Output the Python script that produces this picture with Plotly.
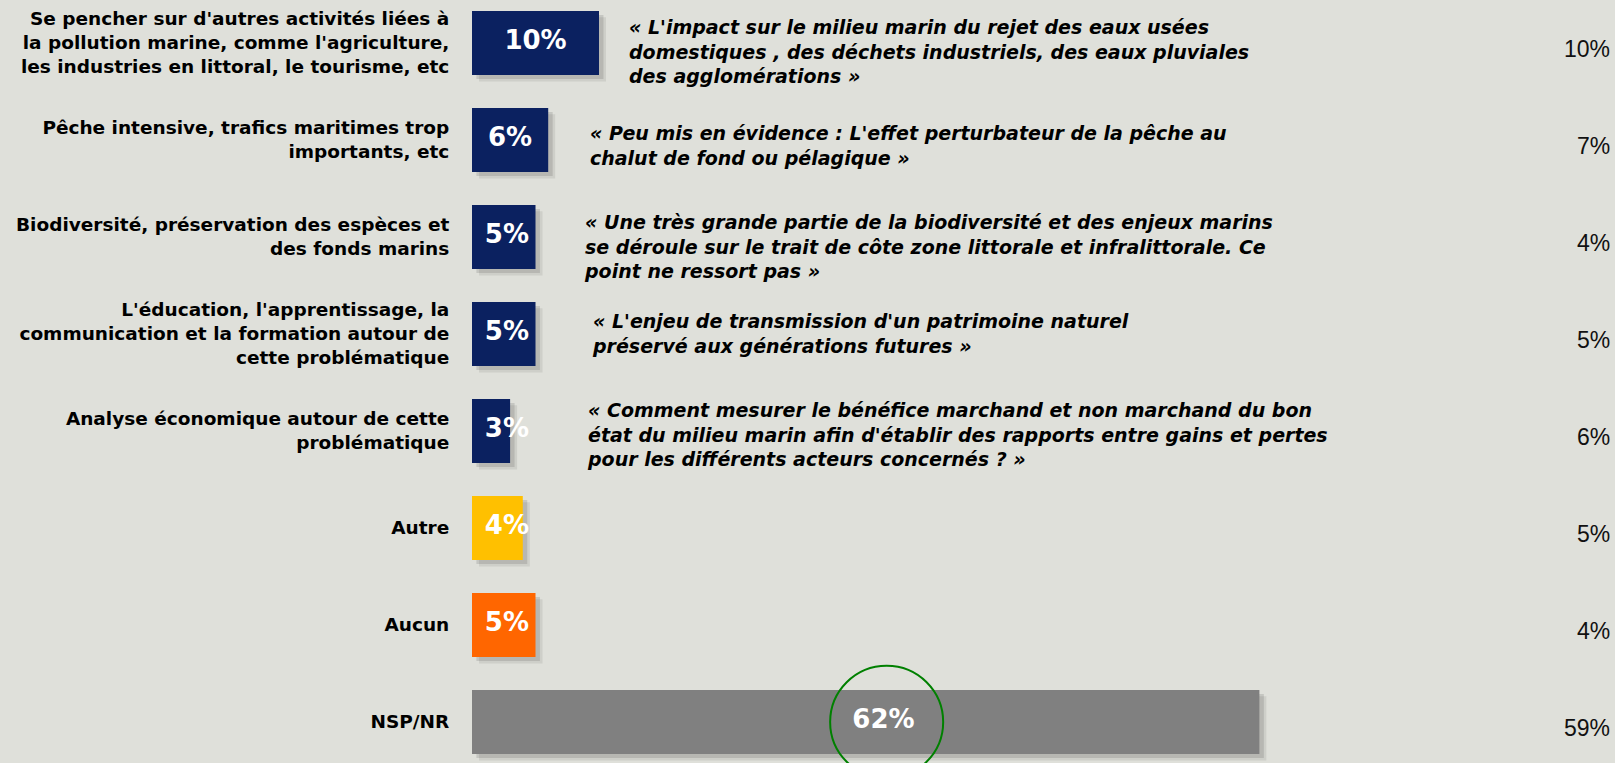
import plotly.graph_objects as go

categories = [
    "Se pencher sur d'autres activités liées à<br>la pollution marine, comme l'agriculture,<br>les industries en littoral, le tourisme, etc",
    "Pêche intensive, trafics maritimes trop<br>importants, etc",
    "Biodiversité, préservation des espèces et<br>des fonds marins",
    "L'éducation, l'apprentissage, la<br>communication et la formation autour de<br>cette problématique",
    "Analyse économique autour de cette<br>problématique",
    "Autre",
    "Aucun",
    "NSP/NR",
]
values = [10, 6, 5, 5, 3, 4, 5, 62]
previous = [10, 7, 4, 5, 6, 5, 4, 59]
bar_colors = ["#0b2160", "#0b2160", "#0b2160", "#0b2160", "#0b2160", "#ffc000", "#ff6600", "#808080"]
quotes = [
    "« L'impact sur le milieu marin du rejet des eaux usées<br>domestiques , des déchets industriels, des eaux pluviales<br>des agglomérations »",
    "« Peu mis en évidence : L'effet perturbateur de la pêche au<br>chalut de fond ou pélagique »",
    "« Une très grande partie de la biodiversité et des enjeux marins<br>se déroule sur le trait de côte zone littorale et infralittorale. Ce<br>point ne ressort pas »",
    "« L'enjeu de transmission d'un patrimoine naturel<br>préservé aux générations futures »",
    "« Comment mesurer le bénéfice marchand et non marchand du bon<br>état du milieu marin afin d'établir des rapports entre gains et pertes<br>pour les différents acteurs concernés ? »",
]
quote_x = [12.2, 9.1, 8.7, 9.3, 8.9]
quote_dy = [0.09, 0.06, 0.10, 0.0, 0.04]

BG = "#dfe0da"
idx = list(range(len(categories)))

fig = go.Figure()

# soft drop shadows
for dx, alpha in [(0.55, 0.10), (0.35, 0.16)]:
    fig.add_trace(go.Bar(
        x=values, y=idx, orientation="h", base=dx, width=0.66, offset=-0.33 + dx * 0.12,
        marker=dict(color=f"rgba(60,60,60,{alpha})", line=dict(width=0)),
        hoverinfo="skip", showlegend=False,
    ))
fig.add_trace(go.Bar(
    x=values, y=idx, orientation="h", width=0.66, offset=-0.33,
    marker=dict(color=bar_colors, line=dict(width=0)),
    hoverinfo="skip", showlegend=False,
))

label_x = [max(v / 2, 2.75) for v in values]
label_x[-1] = values[-1] / 2 + 1.4
fig.add_trace(go.Scatter(
    x=label_x, y=idx, mode="text",
    text=[f"{v}%" for v in values],
    textfont=dict(family="DejaVu Sans", size=26, color="white", weight="bold"),
    textposition="middle center", hoverinfo="skip", showlegend=False,
))

for i, q in enumerate(quotes):
    fig.add_annotation(
        x=quote_x[i], y=i + quote_dy[i], xref="x", yref="y", text=f"<b><i>{q}</i></b>",
        showarrow=False, xanchor="left", yanchor="middle", align="left",
        font=dict(family="DejaVu Sans", size=19, color="#000000"),
    )

for i, p in enumerate(previous):
    fig.add_annotation(
        x=0.997, y=i + 0.065, xref="paper", yref="y", text=f"{p}%",
        showarrow=False, xanchor="right", yanchor="middle",
        font=dict(family="Liberation Sans", size=23, color="#111111"),
    )

# circle highlight around NSP/NR value
fig.add_shape(type="circle", xref="x", yref="y",
              x0=28.2, x1=37.1, y0=6.42, y1=7.58,
              line=dict(color="#008000", width=2), fillcolor="rgba(0,0,0,0)")

fig.update_layout(
    width=1615, height=763,
    margin=dict(l=472, r=0, t=0, b=0),
    paper_bgcolor=BG, plot_bgcolor=BG,
    barmode="overlay",
    xaxis=dict(range=[0, 90], visible=False),
    yaxis=dict(
        range=[7.423, -0.443], tickvals=idx, ticktext=[f"<b>{c}</b>" for c in categories],
        ticks="outside", ticklen=18, tickcolor=BG, showgrid=False, zeroline=False,
        showline=False,
        tickfont=dict(family="DejaVu Sans", size=18.5, color="#000000"),
    ),
)

fig.write_html(
    "out.html",
    config={"displayModeBar": False},
    post_script="document.body.style.margin='0';document.body.style.background='" + BG + "';document.body.style.overflow='hidden';",
)
